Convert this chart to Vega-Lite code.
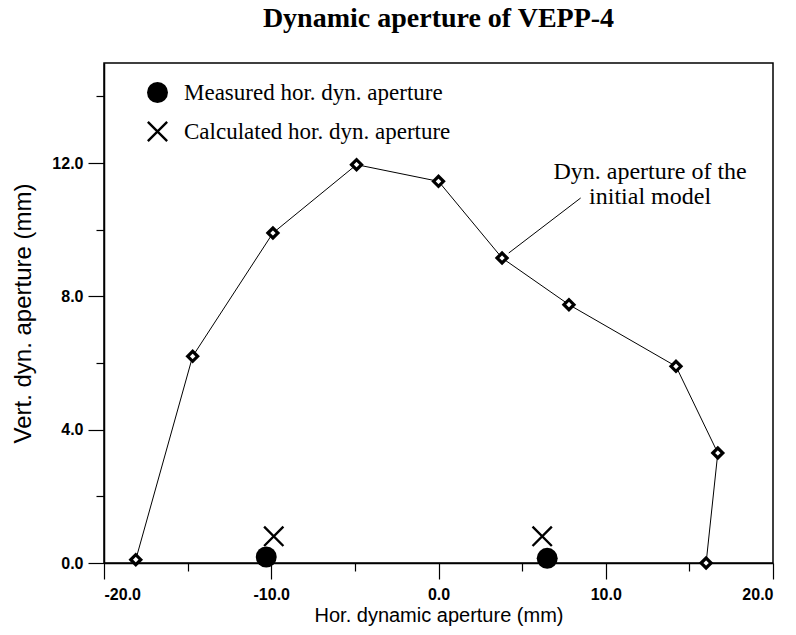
{
  "$schema": "https://vega.github.io/schema/vega-lite/v6.json",
  "autosize": "none",
  "width": 669,
  "height": 500,
  "padding": {"left": 104, "top": 63, "right": 23, "bottom": 72},
  "background": "white",
  "title": {
    "text": "Dynamic aperture of VEPP-4",
    "font": "Liberation Serif",
    "fontSize": 28,
    "fontWeight": "bold",
    "color": "black",
    "anchor": "middle",
    "baseline": "bottom",
    "frame": "group",
    "offset": 2
  },
  "datasets": {
    "model": [
      {"i": 1, "x": -18.1, "y": 0.1},
      {"i": 2, "x": -14.7, "y": 6.2},
      {"i": 3, "x": -9.9, "y": 9.9},
      {"i": 4, "x": -4.9, "y": 11.95},
      {"i": 5, "x": 0.0, "y": 11.45},
      {"i": 6, "x": 3.8, "y": 9.15},
      {"i": 7, "x": 7.8, "y": 7.75},
      {"i": 8, "x": 14.2, "y": 5.9},
      {"i": 9, "x": 16.7, "y": 3.3},
      {"i": 10, "x": 16.0, "y": 0.0}
    ],
    "measured": [
      {"series": "Measured hor. dyn. aperture", "x": -10.3, "y": 0.18},
      {"series": "Measured hor. dyn. aperture", "x": 6.5, "y": 0.14},
      {"series": "Calculated hor. dyn. aperture", "x": -9.85, "y": 0.8},
      {"series": "Calculated hor. dyn. aperture", "x": 6.2, "y": 0.8}
    ],
    "leader": [
      {"x": 4.2, "y": 9.3, "x2": 8.5, "y2": 10.95}
    ],
    "note": [
      {"x": 12.65, "y": 11.72, "label": "Dyn. aperture of the"},
      {"x": 12.65, "y": 10.98, "label": "initial model"}
    ]
  },
  "layer": [
    {
      "data": {"name": "model"},
      "mark": {"type": "line", "color": "black", "strokeWidth": 1},
      "encoding": {
        "x": {
          "field": "x", "type": "quantitative",
          "scale": {"domain": [-20, 20], "nice": false, "zero": false},
          "axis": {
            "title": "Hor. dynamic aperture (mm)",
            "values": [-20, -15, -10, -5, 0, 5, 10, 15, 20],
            "labelExpr": "datum.value % 10 == 0 ? replace(format(datum.value, '.1f'), '\u2212', '-') : ''",
            "tickSize": {"condition": {"test": "datum.value % 10 == 0", "value": 16}, "value": 8},
            "labelPadding": 7,
            "titlePadding": 3
          }
        },
        "y": {
          "field": "y", "type": "quantitative",
          "scale": {"domain": [0, 15], "nice": false, "zero": false},
          "axis": {
            "title": "Vert. dyn. aperture (mm)",
            "titleFontSize": 24,
            "values": [0, 2, 4, 6, 8, 10, 12, 14],
            "labelExpr": "datum.value % 4 == 0 ? replace(format(datum.value, '.1f'), '\u2212', '-') : ''",
            "tickSize": {"condition": {"test": "datum.value % 4 == 0", "value": 16}, "value": 8},
            "labelPadding": 5,
            "titlePadding": 16
          }
        },
        "order": {"field": "i", "type": "quantitative"}
      }
    },
    {
      "data": {"name": "model"},
      "mark": {"type": "point", "shape": "diamond", "filled": true, "fill": "white", "stroke": "black", "strokeWidth": 3.2, "size": 100, "opacity": 1},
      "encoding": {
        "x": {"field": "x", "type": "quantitative"},
        "y": {"field": "y", "type": "quantitative"}
      }
    },
    {
      "data": {"name": "measured"},
      "mark": {"type": "point", "filled": true, "color": "black", "size": 440, "opacity": 1},
      "encoding": {
        "x": {"field": "x", "type": "quantitative"},
        "y": {"field": "y", "type": "quantitative"},
        "shape": {
          "field": "series", "type": "nominal",
          "scale": {
            "domain": ["Measured hor. dyn. aperture", "Calculated hor. dyn. aperture"],
            "range": ["circle", "M-0.84,-1L1,0.84L0.84,1L-1,-0.84ZM0.84,-1L1,-0.84L-0.84,1L-1,0.84Z"]
          },
          "legend": {
            "title": null,
            "orient": "none",
            "legendX": 42,
            "legendY": 18,
            "padding": 0,
            "symbolSize": 440,
            "symbolFillColor": "black",
            "symbolOpacity": 1,
            "labelFont": "Liberation Serif",
            "labelFontSize": 23,
            "labelColor": "black",
            "labelOffset": 15,
            "labelLimit": 400,
            "rowPadding": 12
          }
        }
      }
    },
    {
      "data": {"name": "leader"},
      "mark": {"type": "rule", "color": "black", "strokeWidth": 1},
      "encoding": {
        "x": {"field": "x", "type": "quantitative"},
        "y": {"field": "y", "type": "quantitative"},
        "x2": {"field": "x2"},
        "y2": {"field": "y2"}
      }
    },
    {
      "data": {"name": "note"},
      "mark": {"type": "text", "font": "Liberation Serif", "fontSize": 24, "color": "black", "align": "center", "baseline": "middle"},
      "encoding": {
        "x": {"field": "x", "type": "quantitative"},
        "y": {"field": "y", "type": "quantitative"},
        "text": {"field": "label"}
      }
    }
  ],
  "config": {
    "view": {"stroke": "black", "strokeWidth": 1.5},
    "axis": {
      "grid": false,
      "domainColor": "black",
      "domainWidth": 1.5,
      "tickColor": "black",
      "tickWidth": 1.2,
      "labelFont": "Liberation Sans",
      "labelFontSize": 16,
      "labelFontWeight": "bold",
      "labelColor": "black",
      "titleFont": "Liberation Sans",
      "titleFontSize": 20,
      "titleFontWeight": "normal",
      "titleColor": "black"
    }
  }
}
